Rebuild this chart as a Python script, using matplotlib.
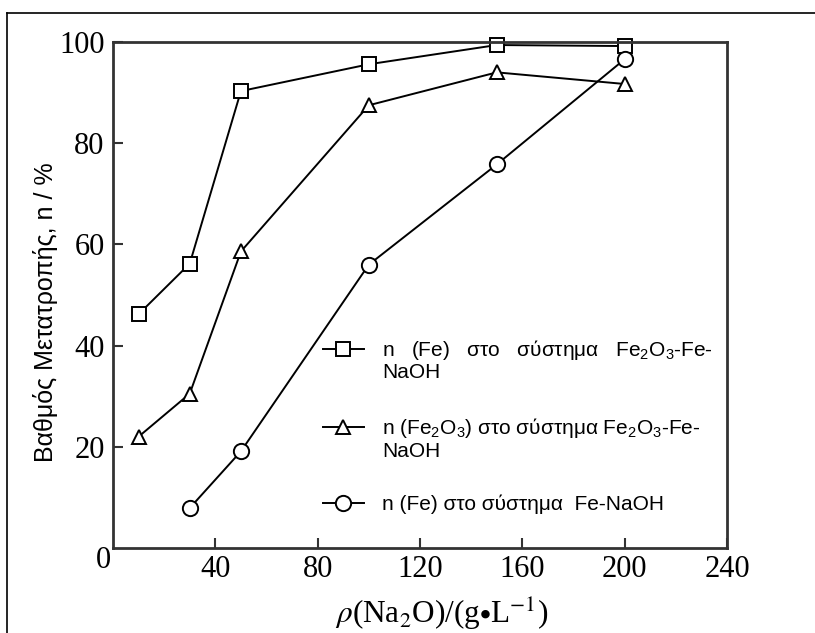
import matplotlib
matplotlib.use("Agg")
import matplotlib.pyplot as plt
from matplotlib.lines import Line2D

# conversion data
x_fe = [10, 30, 50, 100, 150, 200]
y_fe = [46.2, 56.2, 90.3, 95.6, 99.4, 99.2]

x_fe2o3 = [10, 30, 50, 100, 150, 200]
y_fe2o3 = [22.0, 30.5, 58.6, 87.5, 94.0, 91.7]

x_fe_only = [30, 50, 100, 150, 200]
y_fe_only = [7.9, 19.1, 56.0, 75.8, 96.6]

xticks = [40, 80, 120, 160, 200, 240]
yticks = [20, 40, 60, 80, 100]

labels = [
    r"n   (Fe)   στο   σύστημα   $\mathregular{Fe_2O_3}$-Fe-",
    r"n (Fe$\mathregular{_2}$O$\mathregular{_3}$) στο σύστημα $\mathregular{Fe_2O_3}$-Fe-",
    "n (Fe) στο σύστημα  Fe-NaOH",
]

W, H = 815, 633
fig = plt.figure(figsize=(W / 100, H / 100), dpi=100)
ax = fig.add_axes([113 / W, 1 - 548 / H, (727 - 113) / W, (548 - 42) / H])

line_kw = dict(color='black', lw=1.4, mfc='white', mec='black', mew=1.4, clip_on=False)
h1, = ax.plot(x_fe, y_fe, marker='s', ms=10, **line_kw)
h2, = ax.plot(x_fe2o3, y_fe2o3, marker='^', ms=10, **line_kw)
h3, = ax.plot(x_fe_only, y_fe_only, marker='o', ms=11, **line_kw)

ax.set_xlim(0, 240)
ax.set_ylim(0, 100)
ax.set_xticks(xticks)
ax.set_yticks(yticks)
ax.set_xticklabels([str(v) for v in xticks], family='Liberation Serif', fontsize=22)
ax.set_yticklabels([str(v) for v in yticks], family='Liberation Serif', fontsize=22)
ax.tick_params(direction='in', length=7, width=1.5, color='#333333', pad=6)
ax.tick_params(axis='x', pad=5)
for sp in ax.spines.values():
    sp.set_linewidth(2.0)
    sp.set_color('#333333')

# the single "0" at the origin
ax.annotate('0', xy=(0, 0), xycoords='axes fraction', xytext=(-7, -9),
            textcoords='offset points', ha='center', va='center',
            family='Liberation Serif', fontsize=22)

ax.set_xlabel(r"$\rho$(Na$_2$O)/(g$\bullet$L$^{-1}$)", family='Liberation Serif',
              fontsize=22.5, math_fontfamily='stix')
ax.xaxis.set_label_coords((442 - 113) / 614, -0.095)
ax.set_ylabel("Βαθμός Μετατροπής, n / %", family='Liberation Sans', fontsize=18)
ax.yaxis.set_label_coords(-0.09, 0.467)

leg = ax.legend([h1, h2, h3], labels, loc='upper left', bbox_to_anchor=(0.342, 0.415),
                frameon=False, borderpad=0, borderaxespad=0,
                prop={'family': 'Liberation Sans', 'size': 15},
                handlelength=1.95, handletextpad=0.9, labelspacing=2.6)

# second lines of the two long entries
for t in leg.get_texts()[:2]:
    ax.annotate('NaOH', xy=(0, 0), xycoords=t, xytext=(0, -1), textcoords='offset points',
                ha='left', va='top', family='Liberation Sans', fontsize=15, zorder=6)

# frame lines of the original picture (top and left)
fig.add_artist(Line2D([7 / W, 7 / W], [0, 1 - 13 / H], color='black', lw=1.2))
fig.add_artist(Line2D([7 / W, 1], [1 - 13 / H, 1 - 13 / H], color='black', lw=1.2))

fig.savefig('out.png', dpi=100)
